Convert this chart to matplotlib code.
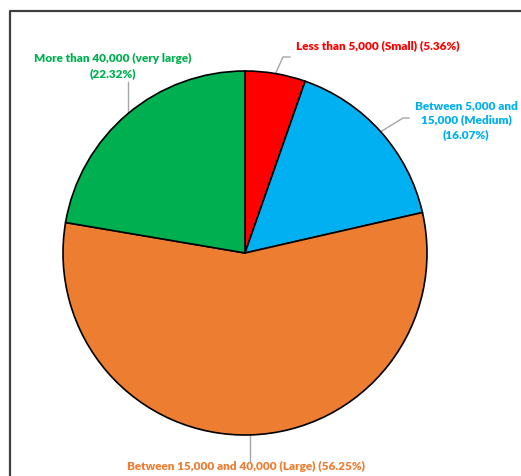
import numpy as np
import matplotlib
matplotlib.use("Agg")
import matplotlib.pyplot as plt
from matplotlib.lines import Line2D

labels = ["Less than 5,000 (Small) (5.36%)",
          "Between 5,000 and\n15,000 (Medium)\n(16.07%)",
          "Between 15,000 and 40,000 (Large) (56.25%)",
          "More than 40,000 (very large)\n(22.32%)"]
values = [5.36, 16.07, 56.25, 22.32]
colors = ["#FF0000", "#00B0F0", "#ED7D31", "#00B050"]

W, H = 521, 476
cx, cy, R = 245, 253, 182
fig = plt.figure(figsize=(W/100, H/100), dpi=100)
ax = fig.add_axes([0, 0, 1, 1])

wedges, _ = ax.pie(values, colors=colors, startangle=90, counterclock=False,
                   radius=1.0, wedgeprops=dict(edgecolor="black", linewidth=1.2))
ax.set_xlim(-cx/R, (W-cx)/R)
ax.set_ylim((cy-H)/R, cy/R)
ax.set_aspect("equal")
ax.axis("off")

def px(x, y):
    return (x - cx)/R, (cy - y)/R

font = dict(family=["Lato", "DejaVu Sans"], fontweight="heavy", fontsize=8.5)
# label centre positions (pixels) and leader elbow points
text_pos = [(378, 46), (466, 120), (246, 466), (113, 66)]
elbows = [[(283, 57), (290, 57)], [(403, 118), (409, 118)], [(250, 462)], [(127.5, 82)]]
for w, lab, col, tp, el in zip(wedges, labels, colors, text_pos, elbows):
    ang = np.deg2rad((w.theta1 + w.theta2) / 2)
    x0, y0 = np.cos(ang), np.sin(ang)
    pts = [(x0, y0)] + [px(*p) for p in el]
    if len(el) == 1:
        pts[1] = (x0, pts[1][1])
    xs, ys = zip(*pts)
    ax.plot(xs, ys, color="#A6A6A6", lw=1.0, zorder=0)
    tx, ty = px(*tp)
    ax.text(tx, ty, lab, color=col, ha="center", va="center",
            linespacing=1.37, **font)

fig.add_artist(Line2D([9.5/W, 9.5/W, 1.0], [0, 1 - 10.5/H, 1 - 10.5/H],
                      transform=fig.transFigure, color="#404040", lw=1.6))
fig.savefig("out.png", dpi=100)
